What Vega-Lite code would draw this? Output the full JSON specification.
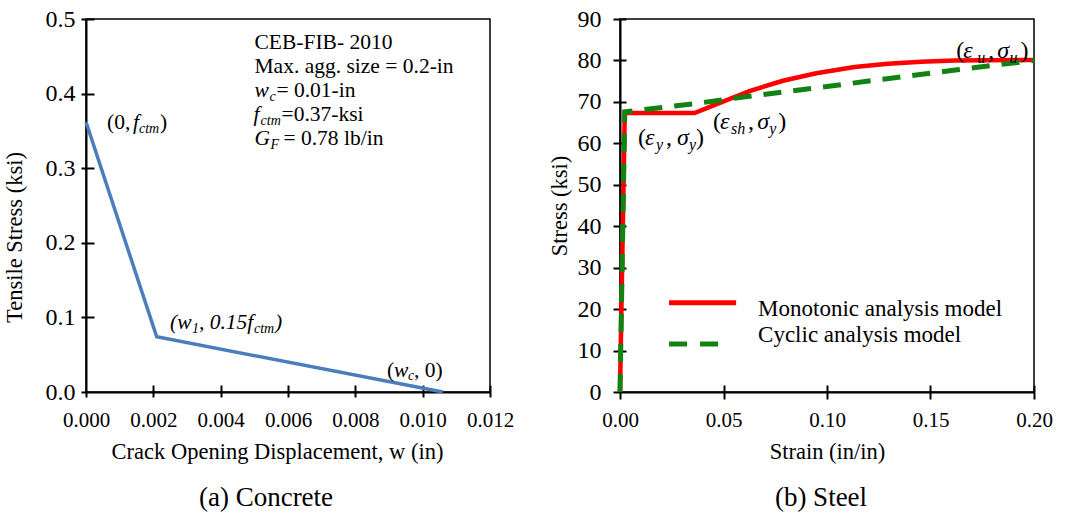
{
  "$schema": "https://vega.github.io/schema/vega-lite/v6.json",
  "background": "white",
  "padding": {"left": 2, "top": 6, "right": 5, "bottom": 5},
  "config": {
    "font": "Liberation Serif",
    "view": {"stroke": "black", "strokeWidth": 1.5},
    "axis": {"domainColor": "black", "domainWidth": 2, "tickColor": "black", "tickWidth": 2, "labelColor": "black", "titleColor": "black", "labelFont": "Liberation Serif", "titleFont": "Liberation Serif", "labelFontSize": 21, "titleFontSize": 22.5, "titleFontWeight": "normal", "grid": false, "labelOverlap": false, "labelFlush": false},
    "title": {"font": "Liberation Serif", "fontSize": 27, "fontWeight": "normal", "color": "black"},
    "text": {"font": "Liberation Serif", "color": "black"}
  },
  "datasets": {
    "concrete": [
      {"w": 0, "s": 0.362},
      {"w": 0.0021, "s": 0.074},
      {"w": 0.0106, "s": 0}
    ],
    "annL": [
      {"t": "CEB-FIB- 2010", "k": "n", "x": 0.005005, "y": 0.4598},
      {"t": "Max. agg. size = 0.2-in", "k": "n", "x": 0.005005, "y": 0.4276},
      {"t": "w", "k": "i", "x": 0.005005, "y": 0.3954},
      {"t": "c", "k": "s", "x": 0.005451, "y": 0.3900},
      {"t": "= 0.01-in", "k": "n", "x": 0.005658, "y": 0.3954},
      {"t": "f", "k": "i", "x": 0.004976, "y": 0.3633},
      {"t": "ctm", "k": "s", "x": 0.005184, "y": 0.3579},
      {"t": "=0.37-ksi", "k": "n", "x": 0.005807, "y": 0.3633},
      {"t": "G", "k": "i", "x": 0.005005, "y": 0.3311},
      {"t": "F", "k": "s", "x": 0.005481, "y": 0.3257},
      {"t": "= 0.78 lb/in", "k": "n", "x": 0.005866, "y": 0.3311},
      {"t": "(0,", "k": "n", "x": 0.000624, "y": 0.3526},
      {"t": "f", "k": "i", "x": 0.001396, "y": 0.3526},
      {"t": "ctm", "k": "s", "x": 0.001574, "y": 0.3472},
      {"t": ")", "k": "n", "x": 0.002198, "y": 0.3526},
      {"t": "(w", "k": "i", "x": 0.002495, "y": 0.08445},
      {"t": "1", "k": "s", "x": 0.003149, "y": 0.07909},
      {"t": ", 0.15f", "k": "i", "x": 0.003356, "y": 0.08445},
      {"t": "ctm", "k": "s", "x": 0.004990, "y": 0.07909},
      {"t": ")", "k": "i", "x": 0.005614, "y": 0.08445},
      {"t": "(", "k": "n", "x": 0.008941, "y": 0.02011},
      {"t": "w", "k": "i", "x": 0.009149, "y": 0.02011},
      {"t": "c", "k": "s", "x": 0.009565, "y": 0.01609},
      {"t": " , 0)", "k": "n", "x": 0.009743, "y": 0.02011}
    ],
    "steelM": [
      {"e": 0, "f": 0},
      {"e": 0.0023, "f": 67.3},
      {"e": 0.036, "f": 67.3},
      {"e": 0.0464, "f": 69.4},
      {"e": 0.0625, "f": 72.6},
      {"e": 0.0787, "f": 75.1},
      {"e": 0.0948, "f": 76.9},
      {"e": 0.1133, "f": 78.4},
      {"e": 0.1294, "f": 79.2},
      {"e": 0.1455, "f": 79.7},
      {"e": 0.1617, "f": 80.0},
      {"e": 0.2, "f": 80.1}
    ],
    "steelC": [
      {"e": 0, "f": 0},
      {"e": 0.0023, "f": 67.6},
      {"e": 0.035, "f": 69.5},
      {"e": 0.066, "f": 71.6},
      {"e": 0.098, "f": 73.6},
      {"e": 0.129, "f": 75.6},
      {"e": 0.162, "f": 77.7},
      {"e": 0.2, "f": 80.0}
    ],
    "annR": [
      {"t": "(", "k": "n", "x": 0.008704, "y": 59.52},
      {"t": "ε", "k": "i", "x": 0.012089, "y": 59.52},
      {"t": "y", "k": "s", "x": 0.017408, "y": 58.31},
      {"t": ",", "k": "n", "x": 0.022244, "y": 59.52},
      {"t": "σ", "k": "i", "x": 0.027563, "y": 59.52},
      {"t": "y", "k": "s", "x": 0.033366, "y": 58.31},
      {"t": ")", "k": "n", "x": 0.036751, "y": 59.52},
      {"t": "(", "k": "n", "x": 0.044971, "y": 63.39},
      {"t": "ε", "k": "i", "x": 0.048356, "y": 63.39},
      {"t": "sh", "k": "s", "x": 0.053675, "y": 62.18},
      {"t": ",", "k": "n", "x": 0.061896, "y": 63.39},
      {"t": "σ", "k": "i", "x": 0.066248, "y": 63.39},
      {"t": "y", "k": "s", "x": 0.072050, "y": 62.18},
      {"t": ")", "k": "n", "x": 0.076403, "y": 63.39},
      {"t": "(", "k": "n", "x": 0.162476, "y": 80.56},
      {"t": "ε", "k": "i", "x": 0.165861, "y": 80.56},
      {"t": "u", "k": "s", "x": 0.172631, "y": 79.36},
      {"t": ",", "k": "n", "x": 0.177950, "y": 80.56},
      {"t": "σ", "k": "i", "x": 0.182302, "y": 80.56},
      {"t": "u", "k": "s", "x": 0.188105, "y": 79.36},
      {"t": ")", "k": "n", "x": 0.193424, "y": 80.56}
    ],
    "legend": [
      {"m": "Monotonic analysis model", "x": 0.0237, "x2": 0.0561, "y": 21.53, "tx": 0.0667, "ty": 18.39},
      {"m": "Cyclic analysis model", "x": 0.0237, "x2": 0.0479, "y": 11.61, "tx": 0.0667, "ty": 12.10}
    ]
  },
  "spacing": 32,
  "hconcat": [
    {
      "width": 404,
      "height": 373,
      "title": {"text": "(a) Concrete", "orient": "bottom", "offset": 22, "frame": "group", "anchor": "middle", "dx": -22},
      "resolve": {"axis": {"x": "independent", "y": "independent"}},
      "layer": [
        {
          "data": {"name": "concrete"},
          "mark": {"type": "line", "color": "#4a7ebb", "strokeWidth": 3.5},
          "encoding": {
            "x": {"field": "w", "type": "quantitative", "scale": {"domain": [0, 0.012], "nice": false, "zero": false},
              "axis": {"orient": "bottom", "values": [0, 0.002, 0.004, 0.006, 0.008, 0.01, 0.012], "format": ".3f", "tickSize": 5, "labelPadding": 12, "title": "Crack Opening Displacement, w (in)", "titlePadding": 10, "titleX": 191}},
            "y": {"field": "s", "type": "quantitative", "scale": {"domain": [0, 0.5], "nice": false, "zero": false},
              "axis": {"orient": "left", "values": [0, 0.1, 0.2, 0.3, 0.4, 0.5], "format": ".1f", "tickSize": 5, "labelPadding": 6, "labelFontSize": 24, "title": "Tensile Stress (ksi)", "titlePadding": 19, "titleY": 218}}
          }
        },
        {
          "data": {"name": "concrete"},
          "mark": {"type": "point", "opacity": 0},
          "encoding": {
            "x": {"field": "w", "type": "quantitative", "scale": {"domain": [0, 0.012], "nice": false, "zero": false}, "axis": {"orient": "bottom", "values": [0.002, 0.004, 0.006, 0.008, 0.01, 0.012], "labels": false, "domain": false, "tickSize": -7, "title": null}},
            "y": {"field": "s", "type": "quantitative", "scale": {"domain": [0, 0.5], "nice": false, "zero": false}, "axis": {"orient": "left", "values": [0.1, 0.2, 0.3, 0.4, 0.5], "labels": false, "domain": false, "tickSize": -8, "title": null}}
          }
        },
        {
          "data": {"name": "annL"},
          "transform": [{"filter": "datum.k === 'n'"}],
          "mark": {"type": "text", "align": "left", "baseline": "alphabetic", "fontSize": 21.5},
          "encoding": {
            "x": {"field": "x", "type": "quantitative", "scale": {"domain": [0, 0.012], "nice": false, "zero": false}, "axis": null},
            "y": {"field": "y", "type": "quantitative", "scale": {"domain": [0, 0.5], "nice": false, "zero": false}, "axis": null},
            "text": {"field": "t"}
          }
        },
        {
          "data": {"name": "annL"},
          "transform": [{"filter": "datum.k === 'i'"}],
          "mark": {"type": "text", "align": "left", "baseline": "alphabetic", "fontSize": 21.5, "fontStyle": "italic"},
          "encoding": {
            "x": {"field": "x", "type": "quantitative", "scale": {"domain": [0, 0.012], "nice": false, "zero": false}, "axis": null},
            "y": {"field": "y", "type": "quantitative", "scale": {"domain": [0, 0.5], "nice": false, "zero": false}, "axis": null},
            "text": {"field": "t"}
          }
        },
        {
          "data": {"name": "annL"},
          "transform": [{"filter": "datum.k === 's'"}],
          "mark": {"type": "text", "align": "left", "baseline": "alphabetic", "fontSize": 14, "fontStyle": "italic"},
          "encoding": {
            "x": {"field": "x", "type": "quantitative", "scale": {"domain": [0, 0.012], "nice": false, "zero": false}, "axis": null},
            "y": {"field": "y", "type": "quantitative", "scale": {"domain": [0, 0.5], "nice": false, "zero": false}, "axis": null},
            "text": {"field": "t"}
          }
        }
      ]
    },
    {
      "width": 414,
      "height": 373,
      "title": {"text": "(b) Steel", "orient": "bottom", "offset": 22, "frame": "group", "anchor": "middle", "dx": -6},
      "resolve": {"axis": {"x": "independent", "y": "independent"}},
      "layer": [
        {
          "data": {"name": "steelM"},
          "mark": {"type": "line", "color": "#ff0000", "strokeWidth": 4.5},
          "encoding": {
            "x": {"field": "e", "type": "quantitative", "scale": {"domain": [0, 0.2], "nice": false, "zero": false},
              "axis": {"orient": "bottom", "values": [0, 0.05, 0.1, 0.15, 0.2], "format": ".2f", "tickSize": 7, "labelPadding": 10, "title": "Strain (in/in)", "titlePadding": 10}},
            "y": {"field": "f", "type": "quantitative", "scale": {"domain": [0, 90], "nice": false, "zero": false},
              "axis": {"orient": "left", "values": [0, 10, 20, 30, 40, 50, 60, 70, 80, 90], "format": "d", "tickSize": 7, "labelPadding": 12, "labelFontSize": 24, "title": "Stress (ksi)", "titlePadding": 6}}
          }
        },
        {
          "data": {"name": "steelC"},
          "mark": {"type": "line", "color": "#128212", "strokeWidth": 5, "strokeDash": [18, 12]},
          "encoding": {
            "x": {"field": "e", "type": "quantitative", "scale": {"domain": [0, 0.2], "nice": false, "zero": false}, "axis": {"orient": "bottom", "values": [0.05, 0.1, 0.15, 0.2], "labels": false, "domain": false, "tickSize": -7, "title": null}},
            "y": {"field": "f", "type": "quantitative", "scale": {"domain": [0, 90], "nice": false, "zero": false}, "axis": {"orient": "left", "values": [10, 20, 30, 40, 50, 60, 70, 80, 90], "labels": false, "domain": false, "tickSize": -6, "title": null}}
          }
        },
        {
          "data": {"name": "legend"},
          "transform": [{"filter": "datum.m === 'Monotonic analysis model'"}],
          "mark": {"type": "rule", "color": "#ff0000", "strokeWidth": 5},
          "encoding": {
            "x": {"field": "x", "type": "quantitative", "scale": {"domain": [0, 0.2], "nice": false, "zero": false}, "axis": null},
            "x2": {"field": "x2"},
            "y": {"field": "y", "type": "quantitative", "scale": {"domain": [0, 90], "nice": false, "zero": false}, "axis": null}
          }
        },
        {
          "data": {"name": "legend"},
          "transform": [{"filter": "datum.m === 'Cyclic analysis model'"}],
          "mark": {"type": "rule", "color": "#128212", "strokeWidth": 5, "strokeDash": [18, 13]},
          "encoding": {
            "x": {"field": "x", "type": "quantitative", "scale": {"domain": [0, 0.2], "nice": false, "zero": false}, "axis": null},
            "x2": {"field": "x2"},
            "y": {"field": "y", "type": "quantitative", "scale": {"domain": [0, 90], "nice": false, "zero": false}, "axis": null}
          }
        },
        {
          "data": {"name": "legend"},
          "mark": {"type": "text", "align": "left", "baseline": "alphabetic", "fontSize": 23},
          "encoding": {
            "x": {"field": "tx", "type": "quantitative", "scale": {"domain": [0, 0.2], "nice": false, "zero": false}, "axis": null},
            "y": {"field": "ty", "type": "quantitative", "scale": {"domain": [0, 90], "nice": false, "zero": false}, "axis": null},
            "text": {"field": "m"}
          }
        },
        {
          "data": {"name": "annR"},
          "transform": [{"filter": "datum.k === 'n'"}],
          "mark": {"type": "text", "align": "left", "baseline": "alphabetic", "fontSize": 24},
          "encoding": {
            "x": {"field": "x", "type": "quantitative", "scale": {"domain": [0, 0.2], "nice": false, "zero": false}, "axis": null},
            "y": {"field": "y", "type": "quantitative", "scale": {"domain": [0, 90], "nice": false, "zero": false}, "axis": null},
            "text": {"field": "t"}
          }
        },
        {
          "data": {"name": "annR"},
          "transform": [{"filter": "datum.k === 'i'"}],
          "mark": {"type": "text", "align": "left", "baseline": "alphabetic", "fontSize": 24, "fontStyle": "italic"},
          "encoding": {
            "x": {"field": "x", "type": "quantitative", "scale": {"domain": [0, 0.2], "nice": false, "zero": false}, "axis": null},
            "y": {"field": "y", "type": "quantitative", "scale": {"domain": [0, 90], "nice": false, "zero": false}, "axis": null},
            "text": {"field": "t"}
          }
        },
        {
          "data": {"name": "annR"},
          "transform": [{"filter": "datum.k === 's'"}],
          "mark": {"type": "text", "align": "left", "baseline": "alphabetic", "fontSize": 16, "fontStyle": "italic"},
          "encoding": {
            "x": {"field": "x", "type": "quantitative", "scale": {"domain": [0, 0.2], "nice": false, "zero": false}, "axis": null},
            "y": {"field": "y", "type": "quantitative", "scale": {"domain": [0, 90], "nice": false, "zero": false}, "axis": null},
            "text": {"field": "t"}
          }
        }
      ]
    }
  ]
}
